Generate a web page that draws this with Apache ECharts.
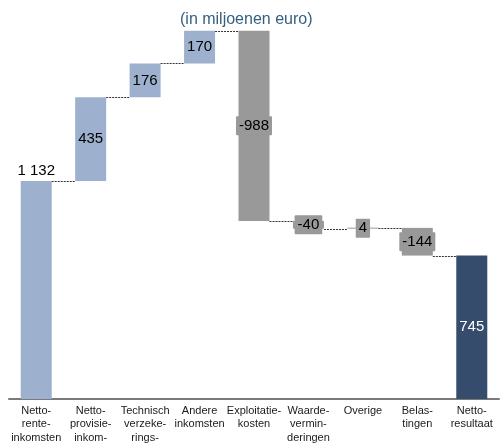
<!DOCTYPE html>
<html>
<head>
<meta charset="utf-8">
<script src="https://cdn.jsdelivr.net/npm/echarts@6/dist/echarts.min.js"></script>
<style>html,body{margin:0;padding:0;background:#fff}#c{width:502px;height:447px}</style>
</head>
<body>
<div id="c"></div>
<script>
const categories = ['Netto-\nrente-\ninkomsten','Netto-\nprovisie-\ninkom-','Technisch\nverzeke-\nrings-','Andere\ninkomsten','Exploitatie-\nkosten','Waarde-\nvermin-\nderingen','Overige','Belas-\ntingen','Netto-\nresultaat'];
const values = [1132, 435, 176, 170, -988, -40, 4, -144, 745];
const labels = ['1 132', '435', '176', '170', '-988', '-40', '4', '-144', '745'];
const kinds = ['income', 'income', 'income', 'income', 'cost', 'cost', 'cost', 'cost', 'total'];

const COLORS = { income: '#9DB0CD', cost: '#999999', total: '#354C6C' };
const BW = 31;
const FONT = '"Liberation Sans", Arial, sans-serif';

// build waterfall base / height from the values
const base = [], height = [], levels = [];
let run = 0;
values.forEach((v, i) => {
  if (kinds[i] === 'total') { base.push(0); height.push(v); run = v; }
  else if (v >= 0) { base.push(run); height.push(v); run += v; }
  else { base.push(run + v); height.push(-v); run += v; }
  levels.push(run);
});
const connectors = [];
for (let i = 0; i < values.length - 1; i++) connectors.push([i, levels[i]]);

const barData = values.map((v, i) => {
  const color = COLORS[kinds[i]];
  const lab = {
    show: true, formatter: labels[i], fontFamily: FONT, fontSize: 15,
    color: kinds[i] === 'total' ? '#ffffff' : '#000000', position: 'inside'
  };
  if (i === 0) { lab.position = 'top'; lab.distance = 3; }
  if (kinds[i] === 'cost') {
    lab.backgroundColor = COLORS.cost; lab.padding = [2, 3, 2, 3]; lab.borderRadius = 1;
  }
  return { value: height[i], itemStyle: { color }, label: lab };
});

const chart = echarts.init(document.getElementById('c'), null, { renderer: 'canvas' });
chart.setOption({
  animation: false,
  title: {
    text: '(in miljoenen euro)', left: 175, top: 7,
    textStyle: { fontFamily: FONT, fontSize: 16, fontWeight: 'normal', color: '#33607F' }
  },
  grid: { left: 9, right: 3, top: 14, bottom: 48, containLabel: false },
  xAxis: {
    type: 'category', data: categories,
    axisLine: { lineStyle: { color: '#7a7a7a', width: 2 } },
    axisTick: { show: false },
    axisLabel: { interval: 0, margin: 5, fontFamily: FONT, fontSize: 11, lineHeight: 13.5, color: '#1a1a1a' }
  },
  yAxis: { type: 'value', min: 0, max: 2000, show: false, splitLine: { show: false } },
  series: [
    { type: 'bar', stack: 'w', data: base, barWidth: BW, itemStyle: { color: 'transparent' }, silent: true },
    { type: 'bar', stack: 'w', data: barData, barWidth: BW, barMinHeight: 1 },
    {
      type: 'custom', data: connectors, z: 5,
      renderItem: function (params, api) {
        const i = api.value(0), lv = api.value(1);
        const a = api.coord([i, lv]), b = api.coord([i + 1, lv]);
        const y = Math.round(a[1]) + 0.5;
        return {
          type: 'line',
          shape: { x1: a[0] + BW / 2, y1: y, x2: b[0] - BW / 2, y2: y },
          style: { stroke: '#333333', lineWidth: 1, lineDash: [2, 1] }
        };
      }
    }
  ]
});
</script>
</body>
</html>
